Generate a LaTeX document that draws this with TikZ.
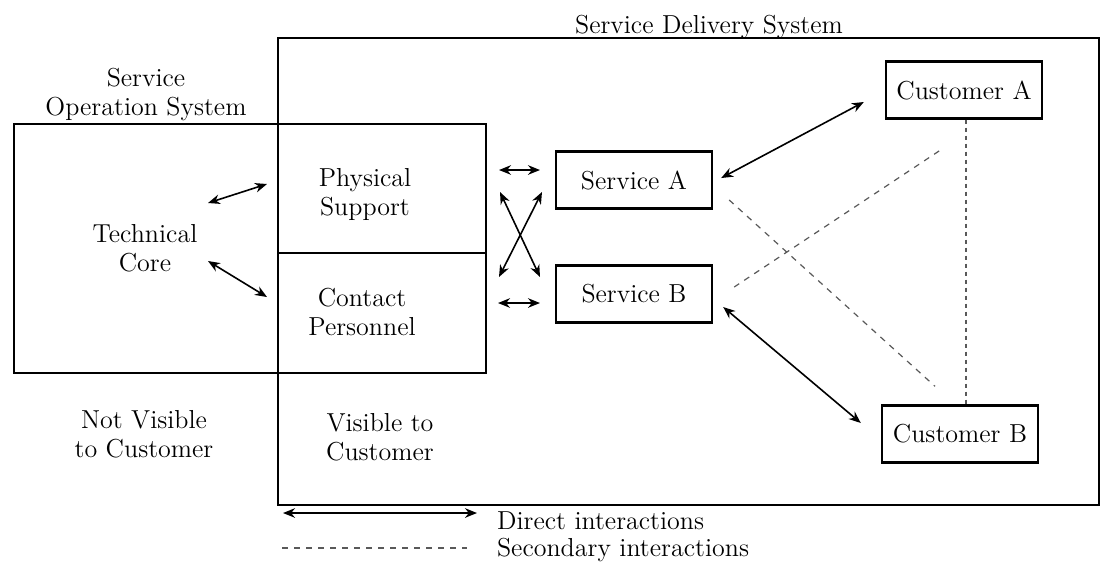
\documentclass[tikz,border=0pt]{standalone}
\usetikzlibrary{arrows.meta}
\tikzset{
  box/.style={draw,line width=1.2pt,minimum width=78pt,minimum height=28.5pt,inner sep=0pt,font=\fontsize{13}{15}\selectfont},
  lbl/.style={align=center,font=\fontsize{13}{14.5}\selectfont},
  frame/.style={line width=0.8pt},
  direct/.style={<->,>={Stealth[length=6pt,width=4.8pt]},line width=0.8pt},
  secondary/.style={gray!70!black,line width=0.6pt,dash pattern=on 3pt off 3pt},
}
\begin{document}
\begin{tikzpicture}[x=0.5pt,y=-0.5pt]
  \useasboundingbox (0,0) rectangle (1102,564);
  % the two systems
  \draw[frame] (278,38) rectangle (1099,505);
  \draw[frame] (14,124) rectangle (486,373);
  \draw[frame] (278,253) -- (486,253);
  \node[lbl] (sdsTitle) at (709,27) {Service Delivery System};
  \node[lbl] (sosTitle) at (146,94) {Service\\Operation System};
  \node[lbl] (core) at (145,248) {Technical\\Core};
  \node[lbl] (phys) at (365,194) {Physical\\Support};
  \node[lbl] (contact) at (362,312) {Contact\\Personnel};
  \node[lbl] (notVis) at (144,434) {Not Visible\\to Customer};
  \node[lbl] (vis) at (380,437) {Visible to\\Customer};
  % services and customers
  \node[box] (servA) at (634,180) {Service A};
  \node[box] (servB) at (634,294) {Service B};
  \node[box] (custA) at (964,90) {Customer A};
  \node[box] (custB) at (960,434) {Customer B};
  % short interactions
  \coordinate (c1a) at (208,203); \coordinate (c1b) at (267,184);
  \coordinate (c2a) at (208,261); \coordinate (c2b) at (267,297);
  \coordinate (h1a) at (499,170); \coordinate (h1b) at (540,170);
  \coordinate (h2a) at (498,303); \coordinate (h2b) at (540,303);
  \coordinate (x1a) at (500,192); \coordinate (x1b) at (540,277);
  \coordinate (x2a) at (542,192); \coordinate (x2b) at (499,277);
  \foreach \a/\b in {c1a/c1b, c2a/c2b, h1a/h1b, h2a/h2b, x1a/x1b, x2a/x2b} {
    \draw[direct] (\a) -- (\b);
  }
  \draw[direct] ([xshift=4pt,yshift=1pt]servA.east) -- ([xshift=-10.5pt,yshift=-6pt]custA.west);
  \draw[direct] ([xshift=5pt,yshift=-6.5pt]servB.east) -- ([xshift=-10pt,yshift=5.5pt]custB.west);
  \draw[secondary] ([xshift=8pt,yshift=-10pt]servA.east) -- ([xshift=-12.5pt,yshift=9pt]custB.north);
  \draw[secondary] ([xshift=10.5pt,yshift=3.5pt]servB.east) -- ([xshift=-11.5pt,yshift=-15pt]custA.south);
  \draw[secondary,dash pattern=on 2pt off 2pt] ([xshift=1pt]custA.south) -- ([xshift=1pt]custA.south |- custB.north);
  % legend
  \coordinate (dirL) at (283,513); \coordinate (dirR) at (477,513);
  \coordinate (secL) at (282,548); \coordinate (secR) at (467,548);
  \draw[direct] (dirL) -- (dirR);
  \draw[secondary] (secL) -- (secR);
  \node[lbl,anchor=west] (dirTxt) at (490,521) {Direct interactions};
  \node[lbl,anchor=west] (secTxt) at (490,550) {Secondary interactions};
\end{tikzpicture}
\end{document}
